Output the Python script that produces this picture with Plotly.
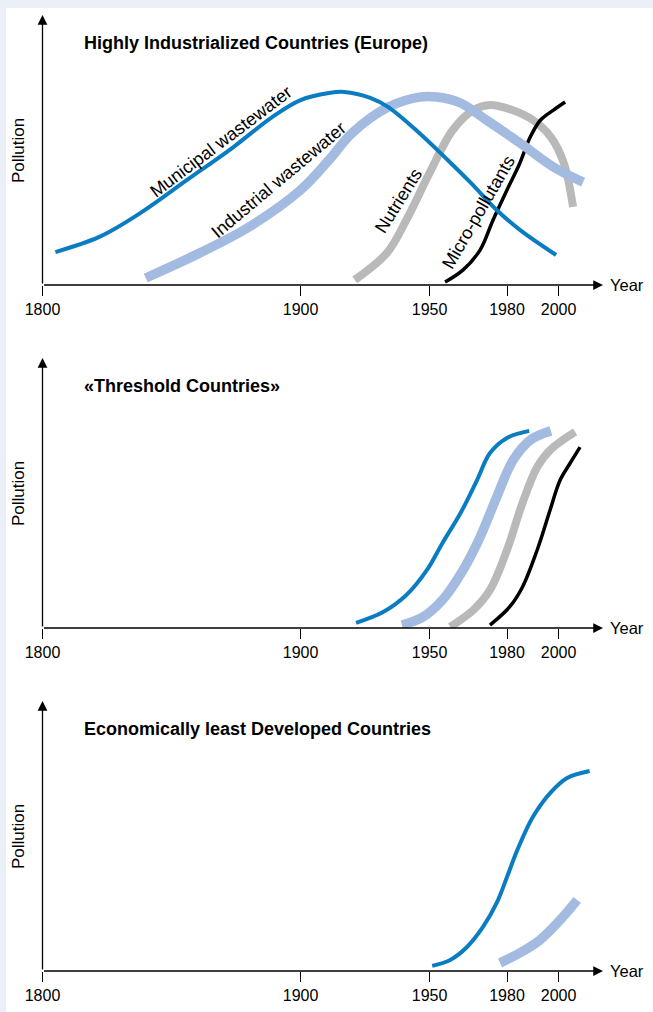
import plotly.graph_objects as go

# ---------------- data (years, pollution in arbitrary units 0-100) ----------------
ticks_years = [1800, 1900, 1950, 1980, 2000]
tick_labels = ["1800", "1900", "1950", "1980", "2000"]

panel_titles = ["Highly Industrialized Countries (Europe)",
                "«Threshold Countries»",
                "Economically least Developed Countries"]

# Panel 1: Highly industrialized countries
p1_municipal_x = [1805, 1822, 1838, 1856, 1874, 1889, 1900, 1911, 1917, 1927, 1934, 1946, 1957, 1966, 1976, 1985, 1999]
p1_municipal_y = [12.2, 17.8, 26.7, 38.9, 51.1, 62.2, 68.5, 71.1, 71.5, 69.3, 65.9, 56.3, 46.3, 37.8, 27.8, 20.4, 11.1]
p1_industrial_x = [1840, 1861, 1880, 1900, 1911, 1920, 1934, 1946, 1953, 1962, 1972, 1985, 1998, 2009.5]
p1_industrial_y = [2.6, 11.9, 21.5, 35.2, 46.3, 56.3, 65.9, 69.6, 69.6, 67.4, 61.1, 52.6, 43.7, 38.1]
p1_nutrients_x = [1921, 1933.5, 1941, 1950, 1959, 1967, 1973.5, 1982, 1990, 1997, 2002, 2005.6]
p1_nutrients_y = [1.9, 11.9, 24.1, 41.5, 57.4, 64.8, 66.7, 64.8, 61.1, 54.8, 45.2, 28.9]
p1_micro_x = [1956, 1963, 1969.6, 1974.6, 1980, 1985, 1989, 1993, 1998, 2002.5]
p1_micro_y = [1.1, 5.6, 13.0, 24.1, 35.2, 45.2, 54.8, 61.1, 64.8, 67.8]

# Panel 2: Threshold countries
p2_municipal_x = [1921.5, 1932, 1941, 1949, 1955, 1962, 1968.4, 1973.4, 1980, 1988.6]
p2_municipal_y = [1.9, 5.9, 12.2, 21.5, 31.5, 42.6, 54.8, 64.8, 70.4, 73.0]
p2_industrial_x = [1939.3, 1947.5, 1955, 1963, 1969.6, 1976, 1982.4, 1989, 1997]
p2_industrial_y = [1.1, 4.1, 10.4, 21.5, 33.7, 48.5, 62.2, 69.6, 73.0]
p2_nutrients_x = [1958, 1967, 1973.4, 1980, 1986, 1991.7, 1996.7, 2006.4]
p2_nutrients_y = [0.4, 6.7, 14.1, 28.9, 46.3, 59.6, 65.9, 72.6]
p2_micro_x = [1973.4, 1981, 1986, 1991.7, 1996.7, 2000.6, 2004.5, 2008.3]
p2_micro_y = [1.1, 7.8, 15.2, 28.9, 43.7, 54.8, 61.1, 67.0]

# Panel 3: Least developed countries
p3_municipal_x = [1951, 1958, 1964.5, 1970.7, 1976, 1980, 1984, 1990, 1996.7, 2003.3, 2012]
p3_municipal_y = [1.9, 4.1, 8.9, 16.3, 25.2, 34.8, 44.8, 57.0, 65.9, 71.5, 74.1]
p3_industrial_x = [1977.3, 1985, 1992.8, 2000.6, 2007.2]
p3_industrial_y = [3.0, 6.7, 11.5, 18.9, 26.3]

series_names = ["Municipal wastewater", "Industrial wastewater", "Nutrients", "Micro-pollutants"]

# ---------------- styles ----------------
W, H = 653, 1012
FONT = "Liberation Sans, Arial, Helvetica, sans-serif"
C_MUN = "#0a7cc2"
C_IND = "#a3bbe0"
C_NUT = "#b9b9b9"
C_MIC = "#000000"
styles = {
    "Municipal wastewater": dict(color=C_MUN, width=4),
    "Industrial wastewater": dict(color=C_IND, width=9.5),
    "Nutrients": dict(color=C_NUT, width=8),
    "Micro-pollutants": dict(color=C_MIC, width=3.5),
}

X0, X1 = 1800, 2017.2
x_dom = [42.5 / W, 603 / W]
axis_px = [285, 628, 971]  # pixel y of each x axis
span_px = 270


def ydom(ax_px):
    return [1 - ax_px / H, 1 - (ax_px - span_px) / H]


fig = go.Figure()

panels = [
    [("Nutrients", p1_nutrients_x, p1_nutrients_y),
     ("Micro-pollutants", p1_micro_x, p1_micro_y),
     ("Industrial wastewater", p1_industrial_x, p1_industrial_y),
     ("Municipal wastewater", p1_municipal_x, p1_municipal_y)],
    [("Municipal wastewater", p2_municipal_x, p2_municipal_y),
     ("Industrial wastewater", p2_industrial_x, p2_industrial_y),
     ("Nutrients", p2_nutrients_x, p2_nutrients_y),
     ("Micro-pollutants", p2_micro_x, p2_micro_y)],
    [("Municipal wastewater", p3_municipal_x, p3_municipal_y),
     ("Industrial wastewater", p3_industrial_x, p3_industrial_y)],
]

annotations = []
for i, series in enumerate(panels):
    k = "" if i == 0 else str(i + 1)
    xa, ya = "x" + k, "y" + k
    for name, xs, ys in series:
        st = styles[name]
        fig.add_trace(go.Scatter(x=xs, y=ys, mode="lines", name=name, showlegend=False,
                                 line=dict(color=st["color"], width=st["width"], shape="spline", smoothing=1.0),
                                 xaxis=xa, yaxis=ya, hoverinfo="skip"))
    fig.layout["xaxis" + k] = dict(domain=x_dom, range=[X0, X1], anchor=ya, showgrid=False, zeroline=False,
                                   showline=False, tickmode="array", tickvals=ticks_years, ticktext=tick_labels,
                                   ticks="outside", ticklen=10, tickwidth=1, tickcolor="black", automargin=False,
                                   tickfont=dict(family=FONT, size=16, color="black"))
    fig.layout["yaxis" + k] = dict(domain=ydom(axis_px[i]), range=[0, 100], anchor=xa, showgrid=False,
                                   zeroline=False, showline=False, showticklabels=False, ticks="", automargin=False)
    # axis arrows
    annotations.append(dict(x=X1, y=0, ax=X0, ay=0, xref=xa, yref=ya, axref=xa, ayref=ya, text="",
                            showarrow=True, arrowhead=2, arrowsize=1.5, arrowwidth=1.3, arrowcolor="black"))
    annotations.append(dict(x=X0, y=100, ax=X0, ay=0, xref=xa, yref=ya, axref=xa, ayref=ya, text="",
                            showarrow=True, arrowhead=2, arrowsize=1.5, arrowwidth=1.3, arrowcolor="black"))
    annotations.append(dict(x=X1, y=0, xref=xa, yref=ya, text="Year", showarrow=False, xanchor="left",
                            yanchor="middle", xshift=5, font=dict(family=FONT, size=16.5, color="black")))
    annotations.append(dict(x=18 / W, y=1 - (axis_px[i] - 134) / H, xref="paper", yref="paper", text="Pollution",
                            showarrow=False, textangle=-90, xanchor="center", yanchor="middle",
                            font=dict(family=FONT, size=17, color="black")))
    annotations.append(dict(x=82 / W, y=1 - (axis_px[i] - 242) / H, xref="paper", yref="paper",
                            text="<b>" + panel_titles[i] + "</b>", showarrow=False, xanchor="left",
                            yanchor="middle", font=dict(family=FONT, size=18, color="black")))

# curve labels (panel 1)
curve_labels = [
    ("Municipal wastewater", 1869, 53, -37),
    ("Industrial wastewater", 1891.5, 39, -40),
    ("Nutrients", 1938, 31, -58),
    ("Micro-pollutants", 1969, 27, -60),
]
for txt, lx, ly, ang in curve_labels:
    annotations.append(dict(x=lx, y=ly, xref="x", yref="y", text=txt, showarrow=False, textangle=ang,
                            font=dict(family=FONT, size=18, color="black")))

fig.update_layout(
    width=W, height=H, margin=dict(l=0, r=0, t=0, b=0, autoexpand=False),
    paper_bgcolor="#ebeff8", plot_bgcolor="rgba(0,0,0,0)",
    annotations=annotations,
    shapes=[dict(type="rect", xref="paper", yref="paper", x0=6 / W, x1=1, y0=0, y1=1 - 8 / H,
                 fillcolor="white", line=dict(width=0), layer="below")],
    showlegend=False,
)

fig.write_html("out.html", config={"displayModeBar": False, "staticPlot": True},
               post_script="document.body.style.margin='0px';document.body.style.overflow='hidden';")
